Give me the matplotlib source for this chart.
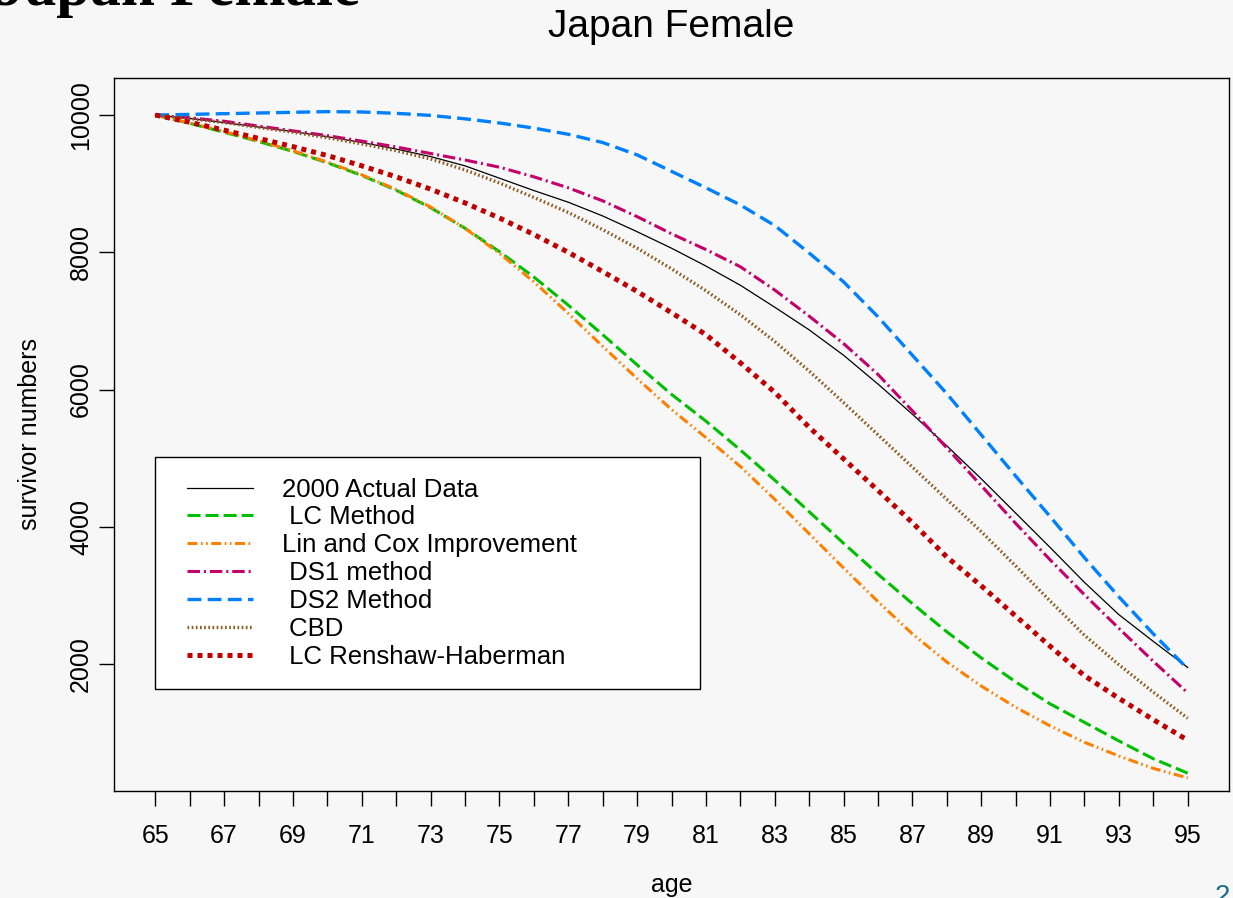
import numpy as np
import matplotlib
matplotlib.use("Agg")
import matplotlib.pyplot as plt
from matplotlib.lines import Line2D
from matplotlib.legend_handler import HandlerLine2D

plt.rcParams['font.family'] = ['Liberation Sans', 'DejaVu Sans']
plt.rcParams['lines.scale_dashes'] = False

# survivor numbers per 10000 at age 65, ages 65..95
ages = np.arange(65, 96)
actual = [10000, 9950, 9890, 9825, 9760, 9685, 9600, 9505, 9395, 9260, 9080,
          8900, 8730, 8530, 8300, 8060, 7800, 7520, 7200, 6870, 6500,
          6080, 5640, 5180, 4700, 4200, 3700, 3190, 2720, 2330, 1950]
lc = [10000, 9880, 9750, 9615, 9470, 9305, 9120, 8905, 8650, 8350, 8010,
      7640, 7230, 6800, 6360, 5930, 5540, 5120, 4680, 4220, 3760,
      3310, 2880, 2470, 2090, 1740, 1420, 1150, 880, 620, 410]
lin_cox = [10000, 9885, 9760, 9625, 9480, 9315, 9130, 8915, 8660, 8350, 7985,
           7570, 7110, 6630, 6160, 5710, 5300, 4880, 4400, 3900, 3400,
           2910, 2440, 2030, 1680, 1370, 1100, 860, 660, 480, 340]
ds1 = [10000, 9960, 9910, 9840, 9770, 9700, 9620, 9535, 9440, 9345, 9240,
       9100, 8940, 8750, 8520, 8270, 8040, 7790, 7450, 7070, 6670,
       6220, 5690, 5150, 4600, 4050, 3520, 3010, 2520, 2040, 1580]
ds2 = [10000, 10010, 10020, 10030, 10040, 10050, 10045, 10025, 9995, 9945, 9885,
       9810, 9720, 9600, 9420, 9180, 8940, 8690, 8390, 7990, 7570,
       7060, 6500, 5940, 5340, 4740, 4150, 3550, 2980, 2440, 1930]
cbd = [10000, 9950, 9890, 9820, 9750, 9670, 9580, 9480, 9360, 9200, 9010,
       8800, 8580, 8330, 8060, 7760, 7440, 7090, 6700, 6270, 5810,
       5340, 4870, 4400, 3930, 3430, 2920, 2420, 1990, 1590, 1210]
rh = [10000, 9895, 9780, 9660, 9540, 9410, 9260, 9100, 8920, 8720, 8500,
      8260, 8000, 7720, 7430, 7120, 6800, 6390, 5960, 5450, 4990,
      4530, 4060, 3560, 3140, 2700, 2260, 1830, 1500, 1190, 890]

labels = ["2000 Actual Data", " LC Method", "Lin and Cox Improvement",
          " DS1 method", " DS2 Method", " CBD", " LC Renshaw-Haberman"]
xticklabels = [str(a) if a % 2 == 1 else "" for a in ages]
yticks = [2000, 4000, 6000, 8000, 10000]

series = [actual, lc, lin_cox, ds1, ds2, cbd, rh]
colors = ["black", "#00bf00", "#ff8000", "#c4006a", "#0080ff", "#8b5a1e", "#c00000"]
widths = [0.9, 2.2, 2.2, 2.2, 2.4, 2.4, 3.6]
styles = ["-", (0, (9.4, 3.6)), (0, (7.2, 2.5, 1.2, 2.5, 1.2, 2.5)),
          (0, (9, 2.8, 1.5, 2.8)), (0, (10, 4.5)), (0, (1.2, 1.8)), (0, (3.6, 3.6))]

bg = "#f7f7f7"
fig = plt.figure(figsize=(12.33, 8.98), dpi=100, facecolor=bg)
ax = fig.add_axes([114 / 1233, 1 - 791 / 898, 1115 / 1233, 713 / 898])
ax.set_facecolor(bg)

for y, c, w, s, lab in zip(series, colors, widths, styles, labels):
    ax.plot(ages, y, color=c, lw=w, linestyle=s, label=lab)

ax.set_xlim(63.8, 96.2)
ax.set_ylim(150, 10540)
ax.set_xticks(ages)
ax.set_xticklabels(xticklabels)
ax.set_yticks(yticks)
ax.set_yticklabels([str(v) for v in yticks], rotation=90, va="center")
ax.tick_params(axis="both", direction="out", length=11, width=1, labelsize=18, color="black")
ax.tick_params(axis="x", pad=13)
ax.tick_params(axis="y", pad=4)
for sp in ax.spines.values():
    sp.set_linewidth(1)

ax.set_xlabel("age", fontsize=18)
ax.xaxis.set_label_coords(0.5, -0.132)
ax.xaxis.label.set_va("center")
ax.set_ylabel("survivor numbers", fontsize=18)
ax.yaxis.set_label_coords(-0.075, 0.5)
ax.yaxis.label.set_va("center")

leg = ax.legend(loc="upper left", bbox_to_anchor=(0.0368, 0.1529, 0.4888, 0.3155),
                mode="expand", borderaxespad=0, fontsize=18.5, handlelength=3.0,
                handletextpad=1.15, borderpad=0.8, labelspacing=0.15,
                fancybox=False, framealpha=1, edgecolor="black",
                handler_map={Line2D: HandlerLine2D(xpad=0.45)})
leg.get_frame().set_linewidth(1)

ax.set_title("Japan Female", fontsize=28, y=1 + 41 / 713, pad=0)

# slide heading and page number, partly outside the canvas
fig.text(-0.004, 1 - 5 / 898, "Japan Female", family="Liberation Serif",
         fontweight="bold", fontsize=44, va="baseline", ha="left")
fig.text(1222 / 1233, 1 - 884 / 898, "2", fontsize=20, color="#1f6e8c",
         va="top", ha="center")

fig.savefig("out.png", dpi=100, facecolor=bg)
